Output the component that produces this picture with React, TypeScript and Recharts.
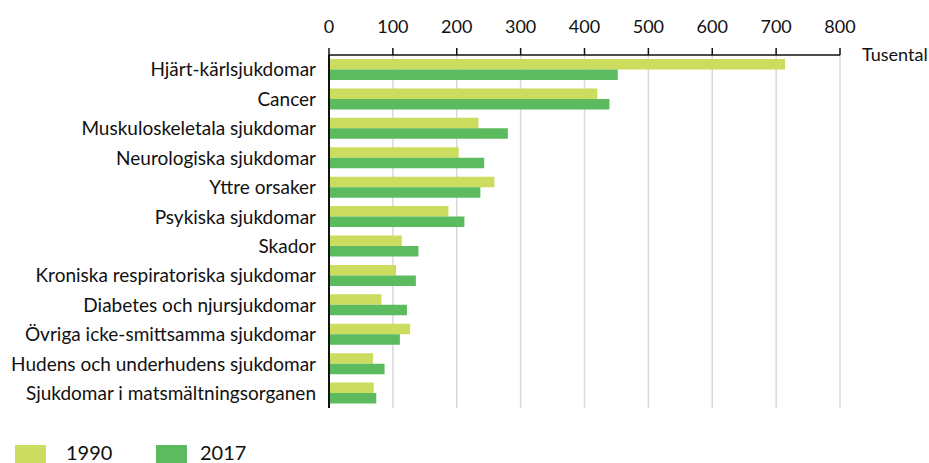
import React from 'react'
import { BarChart, Bar, XAxis, YAxis, CartesianGrid, Label } from 'recharts'

const categories = [
  'Hjärt-kärlsjukdomar',
  'Cancer',
  'Muskuloskeletala sjukdomar',
  'Neurologiska sjukdomar',
  'Yttre orsaker',
  'Psykiska sjukdomar',
  'Skador',
  'Kroniska respiratoriska sjukdomar',
  'Diabetes och njursjukdomar',
  'Övriga icke-smittsamma sjukdomar',
  'Hudens och underhudens sjukdomar',
  'Sjukdomar i matsmältningsorganen',
]

const values1990 = [714, 420, 234, 203, 259, 187, 114, 105, 82, 127, 69, 70]
const values2017 = [452, 439, 280, 243, 237, 212, 140, 136, 122, 111, 87, 74]

const xTicks = [0, 100, 200, 300, 400, 500, 600, 700, 800]

const COLOR_1990 = '#cbdc5f'
const COLOR_2017 = '#5dbb5f'
const FONT = 'Lato, "Open Sans", sans-serif'

const data = categories.map((name, i) => ({
  name,
  y1990: values1990[i],
  y2017: values2017[i],
}))

const legendItems = [
  { label: '1990', color: COLOR_1990, x: 15, textX: 66 },
  { label: '2017', color: COLOR_2017, x: 156, textX: 200 },
]

function LegendBox() {
  return (
    <div style={{ position: 'absolute', left: 0, top: 445, width: 400, height: 18, fontFamily: FONT, fontSize: 20, color: '#111' }}>
      {legendItems.map((it) => (
        <React.Fragment key={it.label}>
          <span style={{ position: 'absolute', left: it.x, top: 0, width: 31, height: 18, background: it.color }} />
          <span style={{ position: 'absolute', left: it.textX, top: -4, lineHeight: '22px' }}>{it.label}</span>
        </React.Fragment>
      ))}
    </div>
  )
}

function TusentalLabel(props: any) {
  const vb = props.viewBox || {}
  return (
    <text
      x={vb.x + vb.width + 22}
      y={vb.y + vb.height + 6}
      fontFamily={FONT}
      fontSize={18}
      fill="#111"
    >
      Tusental
    </text>
  )
}

export default function App() {
  return (
    <div style={{ position: 'absolute', left: 0, top: 0, width: 929, height: 463, background: '#fff', overflow: 'hidden' }}>
      <BarChart
        width={929}
        height={463}
        data={data}
        layout="vertical"
        margin={{ top: 0, right: 89, bottom: 55, left: 0 }}
        barGap={0}
        barSize={10.5}
      >
        <CartesianGrid horizontal={false} stroke="#d9d9d9" strokeWidth={1.5} />
        <XAxis
          type="number"
          orientation="top"
          domain={[0, 800]}
          ticks={xTicks}
          interval={0}
          height={55}
          axisLine={{ stroke: '#111', strokeWidth: 1.5 }}
          tickLine={{ stroke: '#111', strokeWidth: 1.5 }}
          tickSize={7}
          tickMargin={15}
          tick={{ fontFamily: FONT, fontSize: 18, fill: '#111' }}
        >
          <Label content={<TusentalLabel />} />
        </XAxis>
        <YAxis
          type="category"
          dataKey="name"
          width={329}
          interval={0}
          axisLine={{ stroke: '#111', strokeWidth: 2 }}
          tickLine={false}
          tickMargin={7}
          tick={{ fontFamily: FONT, fontSize: 19, fill: '#111' }}
        />
        <Bar dataKey="y1990" name="1990" fill={COLOR_1990} isAnimationActive={false} />
        <Bar dataKey="y2017" name="2017" fill={COLOR_2017} isAnimationActive={false} />
      </BarChart>
      <LegendBox />
    </div>
  )
}
